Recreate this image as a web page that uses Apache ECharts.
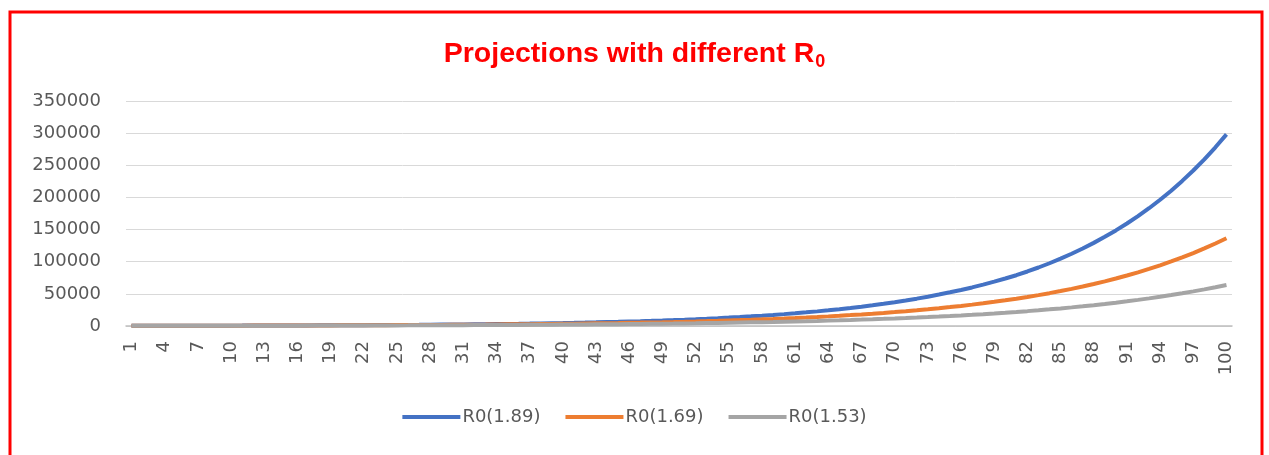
<!DOCTYPE html>
<html>
<head>
<meta charset="utf-8">
<script src="https://cdn.jsdelivr.net/npm/echarts@6/dist/echarts.min.js"></script>
<style>
  html, body { margin: 0; padding: 0; background: #fff; }
  #main { width: 1269px; height: 455px; }
</style>
</head>
<body>
<div id="main"></div>
<script>
// days 1..100
const days = Array.from({ length: 100 }, (_, i) => String(i + 1));

const seriesNames = ['R0(1.89)', 'R0(1.69)', 'R0(1.53)'];
const seriesColors = ['#4472C4', '#ED7D31', '#A5A5A5'];

const r189 = [
  300, 330, 350, 380, 400, 430, 460, 500, 530, 570,
  610, 660, 700, 750, 810, 870, 930, 1000, 1070, 1150,
  1230, 1320, 1410, 1510, 1620, 1740, 1860, 2000, 2140, 2290,
  2460, 2640, 2830, 3030, 3250, 3480, 3730, 4000, 4290, 4600,
  4930, 5280, 5660, 6070, 6510, 6980, 7480, 8020, 8600, 9210,
  9880, 10590, 11350, 12170, 13050, 13980, 14990, 16070, 17230, 18470,
  19800, 21220, 22750, 24390, 26150, 28030, 30050, 32210, 34530, 37010,
  39680, 42540, 45600, 48880, 52400, 56000, 60000, 64300, 69000, 73900,
  79000, 84800, 91000, 97600, 104800, 112400, 120600, 129300, 138700, 148700,
  159400, 170900, 183200, 196400, 210500, 225700, 241900, 259300, 278000, 298000
];

const r169 = [
  310, 330, 350, 380, 400, 430, 450, 480, 510, 540,
  580, 620, 650, 700, 740, 790, 840, 890, 950, 1010,
  1070, 1140, 1210, 1290, 1370, 1450, 1550, 1640, 1750, 1860,
  1980, 2100, 2230, 2380, 2530, 2690, 2860, 3040, 3230, 3430,
  3650, 3880, 4130, 4390, 4660, 4960, 5270, 5610, 5960, 6340,
  6740, 7170, 7620, 8100, 8620, 9160, 9740, 10360, 11010, 11710,
  12450, 13240, 14080, 14970, 15920, 16930, 18000, 19140, 20350, 21640,
  23010, 24460, 26010, 27660, 29410, 31270, 33250, 35350, 37590, 39970,
  42500, 45190, 48050, 51090, 54320, 57760, 61420, 65310, 69440, 73840,
  78510, 83480, 88760, 94380, 100360, 106710, 113460, 120640, 128280, 136400
];

const r153 = [
  240, 250, 270, 280, 300, 320, 340, 360, 380, 400,
  420, 450, 470, 500, 530, 560, 590, 630, 660, 700,
  740, 790, 830, 880, 930, 980, 1040, 1100, 1170, 1230,
  1300, 1380, 1460, 1540, 1630, 1730, 1830, 1940, 2050, 2170,
  2290, 2420, 2570, 2710, 2870, 3040, 3210, 3400, 3600, 3810,
  4030, 4260, 4510, 4770, 5050, 5340, 5650, 5980, 6320, 6690,
  7080, 7490, 7920, 8380, 8870, 9380, 9930, 10500, 11110, 11760,
  12440, 13160, 13920, 14730, 15580, 16490, 17440, 18460, 19530, 20660,
  21860, 23130, 24470, 25890, 27390, 28980, 30660, 32430, 34320, 36310,
  38410, 40640, 43000, 45490, 48130, 50920, 53870, 57000, 60300, 63800
];

const seriesData = [r189, r169, r153];

let myChart = echarts.init(document.getElementById('main'));

myChart.setOption({
  animation: false,
  title: {
    text: '{a|Projections with different R}{b|0}',
    left: 'center',
    top: 32,
    textStyle: {
      rich: {
        a: { fontFamily: 'Liberation Sans', fontWeight: 'bold', fontSize: 28.5, color: '#FF0000', lineHeight: 34 },
        b: { fontFamily: 'Liberation Sans', fontWeight: 'bold', fontSize: 18, color: '#FF0000', padding: [16, 0, 0, 1] }
      }
    }
  },
  // red frame round the chart
  graphic: [{
    type: 'rect',
    shape: { x: 10, y: 12, width: 1252, height: 500 },
    style: { fill: 'none', stroke: '#FF0000', lineWidth: 3 },
    silent: true
  }],
  legend: {
    bottom: 24,
    left: 'center',
    icon: 'rect',
    itemWidth: 58,
    itemHeight: 4,
    itemGap: 25,
    data: seriesNames,
    textStyle: { fontFamily: 'DejaVu Sans', fontSize: 18, color: '#595959', padding: [0, 0, 0, -3] }
  },
  grid: {
    left: 126,
    right: 37,
    top: 101,
    bottom: 129,
    containLabel: false,
    outerBoundsMode: 'none'
  },
  xAxis: {
    type: 'category',
    data: days,
    boundaryGap: true,
    axisLine: { lineStyle: { color: '#BFBFBF', width: 1.5 } },
    axisTick: { show: false },
    axisLabel: {
      interval: 2,
      rotate: 90,
      margin: 15,
      fontFamily: 'DejaVu Sans',
      fontSize: 18,
      color: '#595959'
    }
  },
  yAxis: {
    type: 'value',
    min: 0,
    max: 350000,
    interval: 50000,
    axisLine: { show: false },
    axisTick: { show: false },
    splitLine: { lineStyle: { color: '#D9D9D9', width: 1 } },
    axisLabel: {
      margin: 25,
      fontFamily: 'DejaVu Sans',
      fontSize: 18,
      color: '#595959',
      formatter: function (v) { return String(v); }
    }
  },
  series: seriesNames.map((name, i) => ({
    name: name,
    type: 'line',
    data: seriesData[i],
    showSymbol: false,
    symbol: 'none',
    color: seriesColors[i],
    lineStyle: { width: 4, color: seriesColors[i] }
  }))
});
</script>
</body>
</html>
